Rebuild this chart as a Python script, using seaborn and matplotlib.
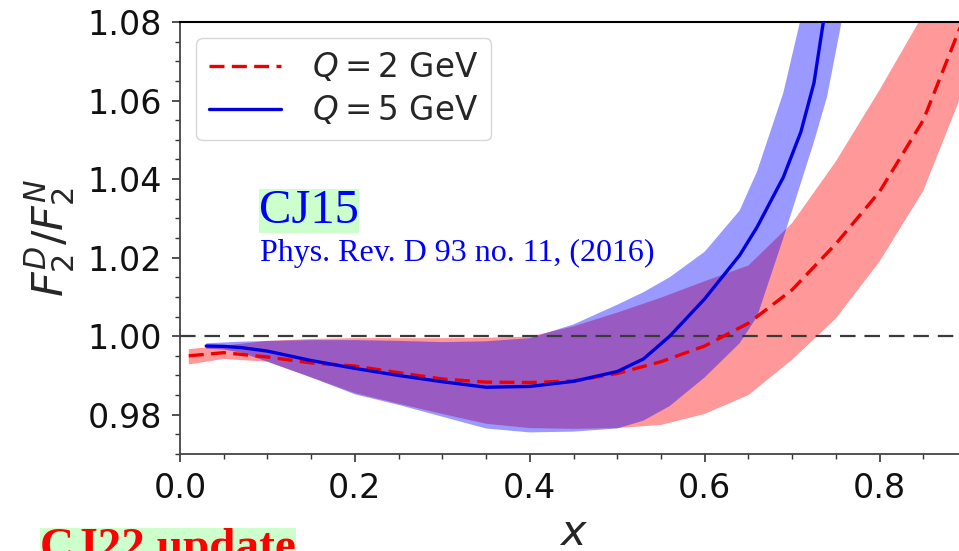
import matplotlib
matplotlib.use("Agg")
import matplotlib.pyplot as plt
from matplotlib.ticker import MultipleLocator
import seaborn as sns

# Deuteron-to-nucleon F2 ratio, CJ15 fit, at two scales
x_q2 = [0.01, 0.05, 0.10, 0.15, 0.20, 0.25, 0.30, 0.35, 0.40, 0.45,
        0.50, 0.55, 0.60, 0.65, 0.70, 0.75, 0.80, 0.85, 0.90, 0.95]
ratio_q2 = [0.9950, 0.9958, 0.9947, 0.9932, 0.9924, 0.9907, 0.9891, 0.9883, 0.9882, 0.9886,
            0.9905, 0.9935, 0.9975, 1.0033, 1.0118, 1.0235, 1.0368, 1.0550, 1.0830, 1.1100]
low_q2 = [0.9928, 0.9942, 0.9935, 0.9895, 0.9855, 0.9828, 0.9802, 0.9777, 0.9766, 0.9764,
          0.9766, 0.9774, 0.9802, 0.9850, 0.9940, 1.0045, 1.0190, 1.0370, 1.0650, 1.0950]
high_q2 = [0.9967, 0.9976, 0.9988, 0.9993, 0.9995, 0.9995, 0.9995, 0.9996, 0.9999, 1.0025,
           1.0060, 1.0098, 1.0140, 1.0180, 1.0288, 1.0445, 1.0627, 1.0820, 1.1050, 1.1300]

x_q5 = [0.03, 0.05, 0.07, 0.10, 0.15, 0.20, 0.25, 0.30, 0.35, 0.40, 0.45,
        0.50, 0.53, 0.56, 0.60, 0.64, 0.66, 0.69, 0.71, 0.725, 0.736, 0.75]
ratio_q5 = [0.9975, 0.9974, 0.9971, 0.9962, 0.9938, 0.9918, 0.9900, 0.9884, 0.9870, 0.9872, 0.9885,
            0.9910, 0.9942, 1.0000, 1.0095, 1.0206, 1.0278, 1.0405, 1.0520, 1.0645, 1.0804, 1.1000]

x_band_q5 = [0.03, 0.05, 0.07, 0.10, 0.15, 0.20, 0.25, 0.30, 0.35, 0.40, 0.45, 0.50,
             0.53, 0.56, 0.60, 0.64, 0.66, 0.69, 0.71, 0.725, 0.74, 0.76, 0.78]
low_q5 = [0.9968, 0.9966, 0.9958, 0.9935, 0.9895, 0.9852, 0.9825, 0.9795, 0.9765, 0.9755, 0.9757, 0.9765,
          0.9785, 0.9822, 0.9895, 0.9982, 1.0050, 1.0250, 1.0390, 1.0495, 1.0610, 1.0840, 1.1100]
high_q5 = [0.9982, 0.9984, 0.9986, 0.9988, 0.9990, 0.9990, 0.9988, 0.9985, 0.9987, 0.9995, 1.0030, 1.0080,
           1.0112, 1.0150, 1.0215, 1.0320, 1.0420, 1.0620, 1.0810, 1.0950, 1.1100, 1.1300, 1.1500]

labels = ["$Q=2$ GeV", "$Q=5$ GeV"]
x_ticks = [0.0, 0.2, 0.4, 0.6, 0.8]
y_ticks = [0.98, 1.00, 1.02, 1.04, 1.06, 1.08]

sns.set_style("ticks")
plt.rcParams["font.family"] = ["DejaVu Sans"]
plt.rcParams["mathtext.fontset"] = "dejavusans"

fig = plt.figure(figsize=(9.59, 5.51), dpi=100)
ax = fig.add_axes([180 / 959, 97 / 551, (967 - 180) / 959, 432 / 551])

# uncertainty bands
ax.fill_between(x_q2, low_q2, high_q2, color="red", alpha=0.4, linewidth=0, zorder=1)
ax.fill_between(x_band_q5, low_q5, high_q5, color="blue", alpha=0.4, linewidth=0, zorder=2)

# unity reference
ax.axhline(1.0, color="#3a3a3a", linewidth=1.6, dashes=(7, 4), zorder=3)

# central curves
sns.lineplot(x=x_q2, y=ratio_q2, ax=ax, color="#ee0000", linewidth=2.4,
             errorbar=None, label=labels[0], zorder=4)
sns.lineplot(x=x_q5, y=ratio_q5, ax=ax, color="#0000dd", linewidth=2.4,
             errorbar=None, label=labels[1], zorder=5)
ax.lines[-2].set_dashes((4.5, 2.2))

ax.set_xlim(0.0, 0.9)
ax.set_ylim(0.97, 1.08)
ax.set_xticks(x_ticks)
ax.set_yticks(y_ticks)
ax.xaxis.set_minor_locator(MultipleLocator(0.05))
ax.yaxis.set_minor_locator(MultipleLocator(0.005))
ax.set_xticklabels([f"{v:.1f}" for v in x_ticks])
ax.set_yticklabels([f"{v:.2f}" for v in y_ticks])
ax.tick_params(axis="both", which="major", direction="out", length=6, width=1.2,
               labelsize=24, pad=7, color="#333333", labelcolor="#111111")
ax.tick_params(axis="both", which="minor", direction="out", length=3.5, width=1.0,
               color="#333333")
for side in ("left", "bottom"):
    ax.spines[side].set_color("#444444")
    ax.spines[side].set_linewidth(1.3)
ax.spines["top"].set_color("black")
ax.spines["top"].set_linewidth(1.5)
ax.spines["right"].set_visible(True)

ax.set_xlabel("$x$", fontsize=31, labelpad=5)
ax.set_ylabel("$F_2^D/F_2^N$", fontsize=31, labelpad=7)

leg = ax.legend(loc="upper left", fontsize=23.5, labelspacing=0.3, handlelength=2.2,
                handletextpad=0.95, borderpad=0.4, frameon=True, fancybox=True)
leg.get_frame().set_edgecolor("#cccccc")

# annotations
fig.text(259 / 959, (551 - 223) / 551, "CJ15", fontsize=35, color="#0000ff",
         family="Liberation Serif", va="baseline", ha="left",
         bbox=dict(facecolor="#ccffcc", edgecolor="none", pad=0.5))
fig.text(260 / 959, (551 - 261) / 551, "Phys. Rev. D 93 no. 11, (2016)", fontsize=23,
         color="#0000ff", family="Liberation Serif", va="baseline", ha="left")
fig.text(40 / 959, (551 - 560) / 551, "CJ22 update", fontsize=34, color="#ff0000",
         family="Liberation Serif", fontweight="bold", va="baseline", ha="left",
         bbox=dict(facecolor="#ccffcc", edgecolor="none", pad=0.5))

fig.savefig("out.png", dpi=100)
